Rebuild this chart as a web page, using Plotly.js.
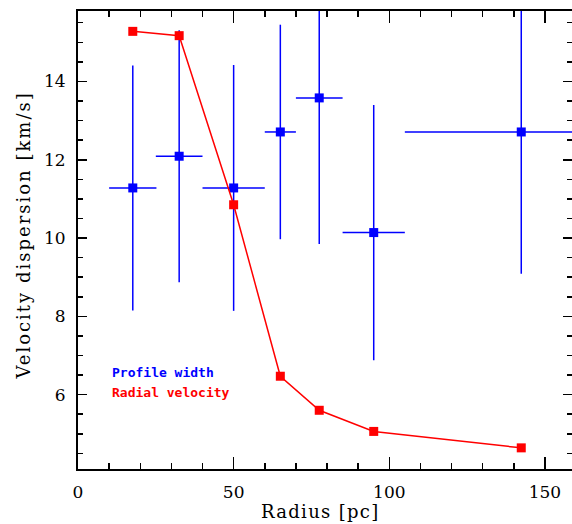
<!DOCTYPE html>
<html>
<head>
<meta charset="utf-8">
<script src="https://cdn.plot.ly/plotly-3.0.1.min.js"></script>
<style>
html,body{margin:0;padding:0;background:#fff;}
#chart{width:572px;height:524px;}
</style>
</head>
<body>
<div id="chart"></div>
<script>
// Radius bins [pc] and half-widths
const radius = [17.6, 32.5, 50, 65, 77.5, 95, 142.4];
const radiusErr = [7.6, 7.5, 10, 5, 7.5, 10, 37.4];
// Profile width velocity dispersion [km/s]
const profileWidth = [11.28, 12.09, 11.28, 12.71, 13.58, 10.14, 12.71];
const profileWidthErr = [3.13, 3.22, 3.14, 2.74, 3.73, 3.26, 3.62];
// Radial velocity dispersion [km/s]
const radialVelocity = [15.28, 15.17, 10.85, 6.47, 5.60, 5.06, 4.64];
const xTicks = [0, 50, 100, 150];
const yTicks = [6, 8, 10, 12, 14];

const blue = '#0000ff', red = '#ff0000';

const traces = [
  {
    x: radius, y: profileWidth, type: 'scatter', mode: 'markers',
    marker: {symbol: 'square', size: 9, color: blue},
    error_x: {type: 'data', array: radiusErr, visible: true, color: blue, thickness: 1.5, width: 0},
    error_y: {type: 'data', array: profileWidthErr, visible: true, color: blue, thickness: 1.5, width: 0},
    showlegend: false, hoverinfo: 'skip'
  },
  {
    x: radius, y: radialVelocity, type: 'scatter', mode: 'lines+markers',
    line: {color: red, width: 1.5},
    marker: {symbol: 'square', size: 9, color: red},
    showlegend: false, hoverinfo: 'skip'
  }
];

const tickFont = {family: 'DejaVu Serif', size: 17, color: '#000'};
const axisCommon = {
  showgrid: false, zeroline: false,
  showline: true, linecolor: '#000', linewidth: 2,
  mirror: 'ticks', ticks: 'inside', tickcolor: '#000', tickwidth: 1.5,
  tickfont: tickFont, ticklabelstandoff: 7
};

const layout = {
  width: 572, height: 524,
  margin: {l: 78, r: 0, t: 11, b: 55},
  paper_bgcolor: '#fff', plot_bgcolor: '#fff',
  showlegend: false,
  xaxis: Object.assign({}, axisCommon, {
    range: [0, 158.7], tickvals: xTicks, ticktext: xTicks.map(String), ticklen: 12,
    minor: {dtick: 10, tick0: 0, ticks: 'inside', ticklen: 6, tickcolor: '#000', tickwidth: 1.5}
  }),
  yaxis: Object.assign({}, axisCommon, {
    range: [4.1, 15.8], tickvals: yTicks, ticktext: yTicks.map(String), ticklen: 9,
    minor: {dtick: 0.5, tick0: 0, ticks: 'inside', ticklen: 5, tickcolor: '#000', tickwidth: 1.5}
  }),
  annotations: [
    {text: '<span style="letter-spacing:1.3px">Radius [pc]</span>', xref: 'paper', yref: 'paper', x: 0.489, y: -0.093, xanchor: 'center', yanchor: 'middle',
     showarrow: false, font: {family: 'DejaVu Serif', size: 18, color: '#000'}},
    {text: '<span style="letter-spacing:2px">Velocity dispersion [km/s]</span>', xref: 'paper', yref: 'paper', x: -0.111, y: 0.51, xanchor: 'center', yanchor: 'middle',
     textangle: -90, showarrow: false, font: {family: 'DejaVu Serif', size: 18, color: '#000'}},
    {text: '<b>Profile width</b>', xref: 'paper', yref: 'paper', x: 0.064, y: 0.21, xanchor: 'left', yanchor: 'middle',
     showarrow: false, font: {family: 'DejaVu Sans Mono', size: 13, color: blue}},
    {text: '<b>Radial velocity</b>', xref: 'paper', yref: 'paper', x: 0.064, y: 0.168, xanchor: 'left', yanchor: 'middle',
     showarrow: false, font: {family: 'DejaVu Sans Mono', size: 13, color: red}}
  ]
};

Plotly.newPlot('chart', traces, layout, {displayModeBar: false, staticPlot: true});
</script>
</body>
</html>
